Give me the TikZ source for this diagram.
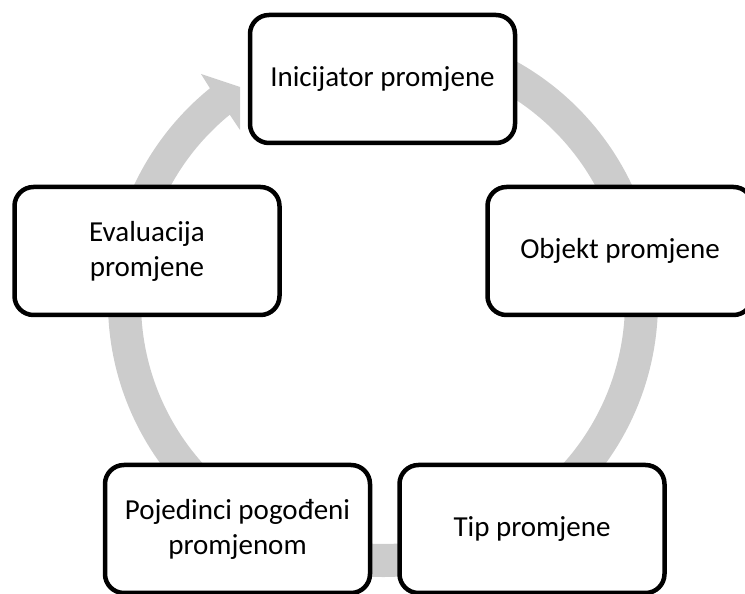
\documentclass[tikz,border=0pt]{standalone}
\usepackage{fontspec}
\setmainfont{Carlito}
\definecolor{ringgray}{RGB}{204,204,204}
\tikzset{
  box/.style={draw=black, line width=4.5pt, rounded corners=19pt, fill=white,
    minimum width=265pt, minimum height=128pt, align=center, inner sep=4pt,
    font=\fontsize{29pt}{35pt}\selectfont},
  ring/.style={fill=ringgray, draw=none}
}
\begin{document}
\begin{tikzpicture}[x=1pt,y=1pt]
\useasboundingbox (0,0) rectangle (745,594);
\clip (0,0) rectangle (745,594);
\coordinate (C) at (383,292);
\coordinate (owing) at (201,520);
\coordinate (tip) at (240,507);
\coordinate (iwing) at (240,464);
% cycle band with arrow head
\fill[ring] ([shift={(C)}]85:275) arc[start angle=85, end angle=-231, radius=275]
  -- (owing) -- (tip) -- (iwing)
  -- ([shift={(C)}]-230.7:242) arc[start angle=-230.7, end angle=85, radius=242] -- cycle;
% boxes
\node[box] (ini) at (382.5,515) {Inicijator promjene};
\node[box] (obj) at (620,343) {Objekt promjene};
\node[box] (tip2) at (532,65) {Tip promjene};
\node[box] (poj) at (237.5,65) {Pojedinci pogođeni\\promjenom};
\node[box] (eva) at (147,343) {Evaluacija\\promjene};
\end{tikzpicture}
\end{document}
